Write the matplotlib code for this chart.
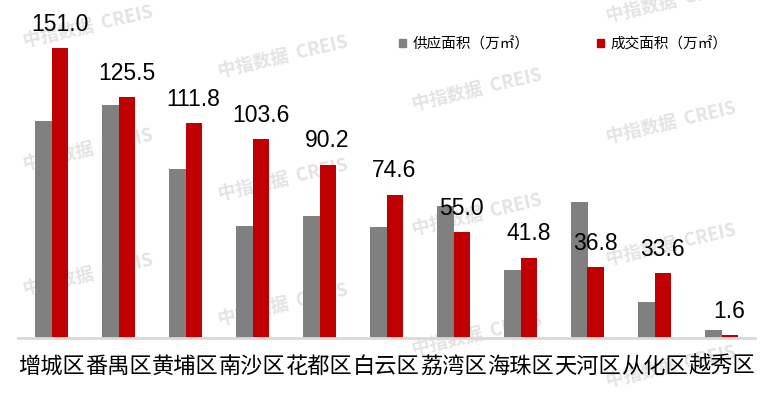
import numpy as np
import matplotlib.pyplot as plt
from matplotlib.patches import Patch

districts = ["增城区", "番禺区", "黄埔区", "南沙区", "花都区", "白云区",
             "荔湾区", "海珠区", "天河区", "从化区", "越秀区"]
supply = [113.0, 121.4, 88.0, 58.3, 63.5, 57.8, 68.7, 35.4, 70.8, 18.7, 4.2]
deal = [151.0, 125.5, 111.8, 103.6, 90.2, 74.6, 55.0, 41.8, 36.8, 33.6, 1.6]
series_names = ["供应面积（万㎡）", "成交面积（万㎡）"]

GRAY = "#808080"
RED = "#c00000"
CJK = ["Noto Sans CJK SC", "DejaVu Sans"]

fig = plt.figure(figsize=(7.65, 3.96), dpi=100)
ax = fig.add_axes([18 / 765, 58 / 396, 737 / 765, 338 / 396])
ax.patch.set_alpha(0)

# watermarks behind the bars
wm_pos = [(88, 27), (88, 150), (88, 275),
          (283, 57), (283, 180), (283, 305),
          (477, 90), (477, 215), (477, 335),
          (671, 2), (671, 123), (671, 245), (671, 367)]
for px, py in wm_pos:
    fig.text(px / 765, 1 - py / 396, "中指数据  CREIS", family=CJK, fontsize=13,
             fontweight="bold", color="#e3e3e3", rotation=13,
             ha="center", va="center", zorder=-5)

x = np.arange(len(districts))
w = 0.24
ax.bar(x - w / 2, supply, width=w, color=GRAY, zorder=2)
ax.bar(x + w / 2, deal, width=w, color=RED, zorder=2)

for xi, v in zip(x, deal):
    ax.annotate(f"{v:.1f}", (xi + w / 2, v), xytext=(0, 12.5),
                textcoords="offset points", ha="center", va="baseline",
                family="Liberation Sans", fontsize=16.5, color="black")

ax.set_xlim(-0.5, len(districts) - 0.5)
ax.set_ylim(0, 176)
ax.set_xticks(x)
ax.set_xticklabels(districts, family=CJK, fontsize=16)
ax.tick_params(axis="x", length=0, pad=12)
ax.set_yticks([])
for s in ["top", "right", "left"]:
    ax.spines[s].set_visible(False)
ax.spines["bottom"].set_color("#d9d9d9")
ax.spines["bottom"].set_linewidth(2)

handles = [Patch(color=GRAY), Patch(color=RED)]
leg = fig.legend(handles, series_names, loc="center left",
                 bbox_to_anchor=(399 / 765, 1 - 44 / 396), ncol=2,
                 frameon=False, prop={"family": CJK, "size": 10.5},
                 handlelength=0.45, handleheight=0.45, handletextpad=0.5,
                 columnspacing=4.6, borderaxespad=0, borderpad=0)

fig.savefig("out.png", dpi=100)
